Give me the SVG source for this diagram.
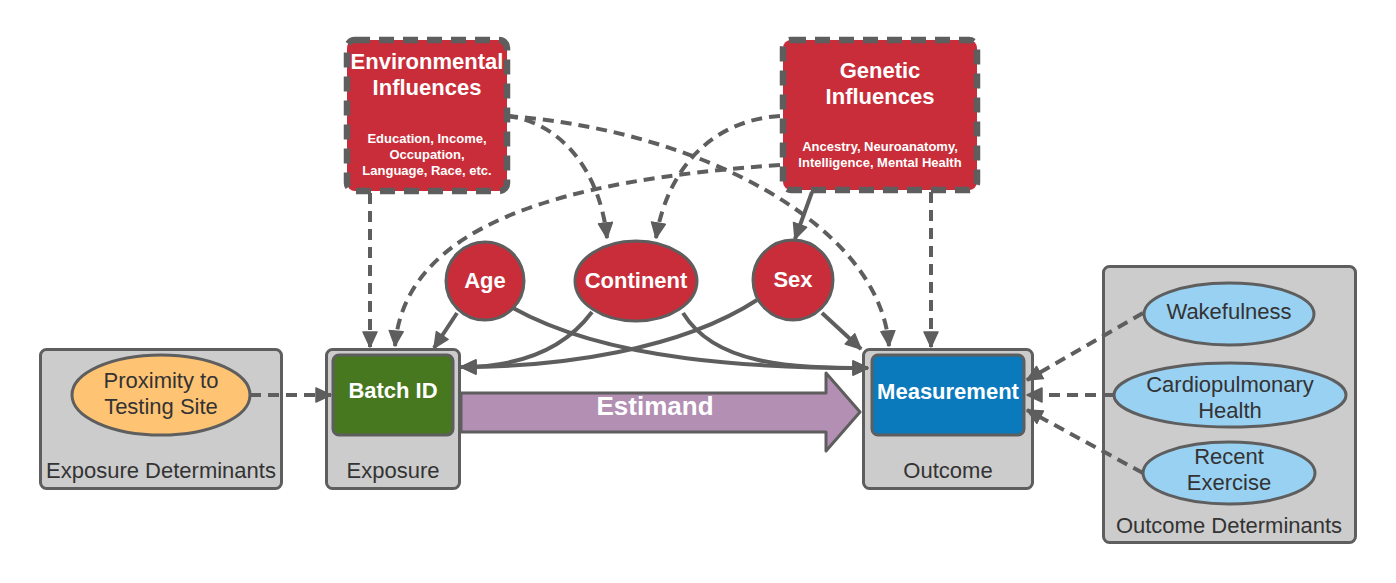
<svg xmlns="http://www.w3.org/2000/svg" width="1396" height="583" viewBox="0 0 1396 583">
  <style>
    .container { fill: #cccccc; stroke: #5e5e5e; stroke-width: 3; }
    .cause { fill: #c92d39; stroke: #5e5e5e; stroke-width: 3; }
    .cause-box { fill: #c92d39; stroke: #5e5e5e; stroke-width: 6.5; stroke-dasharray: 15 9; }
    .edge { fill: none; stroke: #5e5e5e; stroke-width: 4; marker-end: url(#head); }
    .dashed { stroke-dasharray: 11 7; }
    .lbl { font-family: "Liberation Sans", Arial, sans-serif; fill: #333333; font-size: 22px; text-anchor: middle; }
    .wlbl { font-family: "Liberation Sans", Arial, sans-serif; fill: #ffffff; font-weight: bold; text-anchor: middle; }
    .det-blue { fill: #99d1f2; stroke: #5e5e5e; stroke-width: 3; }
  </style>
  <defs>
    <marker id="head" markerUnits="userSpaceOnUse" markerWidth="20" markerHeight="18" refX="16" refY="8" orient="auto">
      <path d="M1,1 L16,8 L1,15 z" fill="#5e5e5e" stroke="#5e5e5e" stroke-width="1.5" stroke-linejoin="round"/>
    </marker>
  </defs>

  <rect width="1396" height="583" fill="#ffffff"/>

  <!-- grouping containers -->
  <g id="exposure-determinants">
    <rect class="container" x="40.5" y="349.5" width="241" height="139" rx="6"/>
    <text class="lbl" x="161" y="478">Exposure Determinants</text>
  </g>
  <g id="exposure">
    <rect class="container" x="326.5" y="349.5" width="133" height="139" rx="6"/>
    <text class="lbl" x="393" y="478">Exposure</text>
  </g>
  <g id="outcome">
    <rect class="container" x="863.5" y="349.5" width="169" height="139" rx="6"/>
    <text class="lbl" x="948" y="478">Outcome</text>
  </g>
  <g id="outcome-determinants">
    <rect class="container" x="1103.5" y="266.5" width="252" height="276" rx="6"/>
    <text class="lbl" x="1229" y="533">Outcome Determinants</text>
  </g>

  <!-- connectors -->
  <g id="connectors">
    <path class="edge dashed" d="M507,116 C560,122 600,170 607,238"/>
    <path class="edge dashed" d="M507,116 C700,130 880,225 889,346"/>
    <path class="edge dashed" d="M780,116 C715,120 668,165 656,238"/>
    <path class="edge dashed" d="M780,165 C560,180 405,225 395,346"/>
    <path class="edge dashed" d="M370,193 L370,347"/>
    <path class="edge dashed" d="M931,192 L931,347"/>
    <path class="edge" d="M812,192 L795,239"/>
    <path class="edge" d="M457,313 L434,348"/>
    <path class="edge" d="M513,308 C610,362 760,368 868,368"/>
    <path class="edge" d="M683,313 C715,365 790,368 868,368"/>
    <path class="edge" d="M592,312 C560,355 510,367 461,367"/>
    <path class="edge" d="M757,300 C680,350 560,367 461,367"/>
    <path class="edge" d="M822,313 L861,349"/>
    <path class="edge dashed" d="M250,395 L331,395"/>
    <path class="edge dashed" d="M1143,313 L1027,380"/>
    <path class="edge dashed" d="M1114,395 L1027,395"/>
    <path class="edge dashed" d="M1143,473 L1027,410"/>
  </g>

  <!-- influence boxes -->
  <g id="environmental-influences">
    <rect class="cause-box" x="347" y="40" width="160" height="151" rx="8"/>
    <text class="wlbl" x="427" y="69" font-size="22">Environmental</text>
    <text class="wlbl" x="427" y="95" font-size="22">Influences</text>
    <text class="wlbl" x="427" y="143" font-size="13">Education, Income,</text>
    <text class="wlbl" x="427" y="159" font-size="13">Occupation,</text>
    <text class="wlbl" x="427" y="175" font-size="13">Language, Race, etc.</text>
  </g>
  <g id="genetic-influences">
    <rect class="cause-box" x="783" y="40" width="194" height="150" rx="8"/>
    <text class="wlbl" x="880" y="78" font-size="22">Genetic</text>
    <text class="wlbl" x="880" y="104" font-size="22">Influences</text>
    <text class="wlbl" x="880" y="151" font-size="13">Ancestry, Neuroanatomy,</text>
    <text class="wlbl" x="880" y="167" font-size="13">Intelligence, Mental Health</text>
  </g>

  <!-- covariates -->
  <g id="age">
    <circle class="cause" cx="485" cy="281" r="39"/>
    <text class="wlbl" x="485" y="288" font-size="22">Age</text>
  </g>
  <g id="continent">
    <ellipse class="cause" cx="636" cy="281" rx="61" ry="40"/>
    <text class="wlbl" x="636" y="288" font-size="22">Continent</text>
  </g>
  <g id="sex">
    <circle class="cause" cx="793" cy="280" r="40"/>
    <text class="wlbl" x="793" y="287" font-size="22">Sex</text>
  </g>

  <!-- exposure and outcome -->
  <g id="batch-id">
    <rect x="333" y="355" width="120" height="80" rx="6" fill="#47781f" stroke="#5e5e5e" stroke-width="3"/>
    <text class="wlbl" x="393" y="398" font-size="22">Batch ID</text>
  </g>
  <g id="measurement">
    <rect x="872" y="355" width="152" height="80" rx="6" fill="#0b7abd" stroke="#5e5e5e" stroke-width="3"/>
    <text class="wlbl" x="948" y="399" font-size="22">Measurement</text>
  </g>

  <g id="estimand">
    <path d="M461,393 L826,393 L826,373 L860,412 L826,451 L826,432 L461,432 Z" fill="#b28fb3" stroke="#5e5e5e" stroke-width="3" stroke-linejoin="round"/>
    <text class="wlbl" x="655" y="415" font-size="26">Estimand</text>
  </g>

  <!-- determinants -->
  <g id="proximity">
    <ellipse cx="161" cy="395" rx="89" ry="40" fill="#ffc374" stroke="#5e5e5e" stroke-width="3"/>
    <text class="lbl" x="161" y="388">Proximity to</text>
    <text class="lbl" x="161" y="414">Testing Site</text>
  </g>
  <g id="wakefulness">
    <ellipse class="det-blue" cx="1229" cy="314" rx="85" ry="31"/>
    <text class="lbl" x="1229" y="319">Wakefulness</text>
  </g>
  <g id="cardiopulmonary-health">
    <ellipse class="det-blue" cx="1230" cy="395" rx="116" ry="32"/>
    <text class="lbl" x="1230" y="392">Cardiopulmonary</text>
    <text class="lbl" x="1230" y="418">Health</text>
  </g>
  <g id="recent-exercise">
    <ellipse class="det-blue" cx="1229" cy="473" rx="86" ry="31"/>
    <text class="lbl" x="1229" y="464">Recent</text>
    <text class="lbl" x="1229" y="490">Exercise</text>
  </g>
</svg>
